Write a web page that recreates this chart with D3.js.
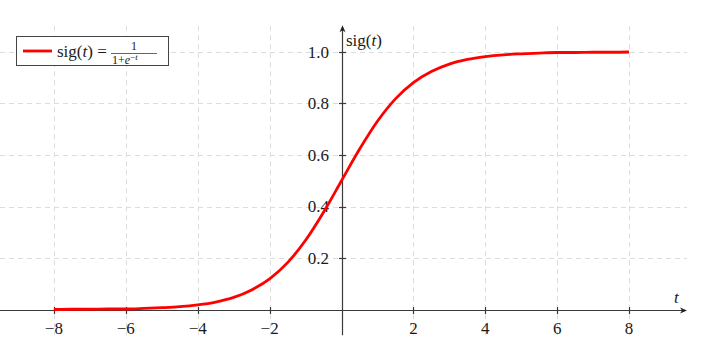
<!DOCTYPE html>
<html><head><meta charset="utf-8">
<script src="https://cdn.jsdelivr.net/npm/d3@7"></script>
<style>body{margin:0;background:#fff}svg{display:block}</style>
</head><body><svg id="c" width="715" height="352"></svg>
<script>
// data
const tValues = [-8,-7.5,-7,-6.5,-6,-5.5,-5,-4.5,-4,-3.5,-3,-2.5,-2,-1.5,-1,-0.5,0,0.5,1,1.5,2,2.5,3,3.5,4,4.5,5,5.5,6,6.5,7,7.5,8];
const sigValues = [0.000,0.001,0.001,0.002,0.002,0.004,0.007,0.011,0.018,0.029,0.047,0.076,0.119,0.182,0.269,0.378,0.500,0.622,0.731,0.818,0.881,0.924,0.953,0.971,0.982,0.989,0.993,0.996,0.998,0.998,0.999,0.999,1.000];
const xTicks = [-8,-6,-4,-2,2,4,6,8];
const yTicks = [0.2,0.4,0.6,0.8,1.0];

const FONT = "'Liberation Serif', 'Times New Roman', serif";
const svg = d3.select("#c");
const x = d3.scaleLinear().domain([-9.5, 9.5]).range([0, 683]);
const y = d3.scaleLinear().domain([0, 1]).range([309.5, 52]);
const yTop = y(1.1), yBot = y(-0.1);
const fmtX = d => (d < 0 ? "\u2212" + Math.abs(d) : String(d));

// grid
const grid = svg.append("g").attr("stroke", "#dcdcdc").attr("stroke-width", 1).attr("stroke-dasharray", "5,4");
grid.selectAll(".gx").data(xTicks).join("line")
  .attr("x1", d => Math.round(x(d)) + 0.5).attr("x2", d => Math.round(x(d)) + 0.5)
  .attr("y1", yTop).attr("y2", yBot);
grid.selectAll(".gy").data(yTicks).join("line")
  .attr("x1", 0).attr("x2", 687)
  .attr("y1", d => Math.round(y(d)) + 0.5).attr("y2", d => Math.round(y(d)) + 0.5);

// axes
const ax = svg.append("g").attr("stroke", "#3a3a3a").attr("stroke-width", 1.2);
const y0 = Math.round(y(0)) + 0.5, x0 = Math.round(x(0)) + 0.5;
ax.append("line").attr("x1", 0).attr("x2", 684).attr("y1", y0).attr("y2", y0);
ax.append("line").attr("x1", x0).attr("x2", x0).attr("y1", yBot).attr("y2", yTop + 2);
svg.append("path").attr("fill", "#222")
  .attr("d", `M${687},${y0} L${680},${y0 - 3} L${682},${y0} L${680},${y0 + 3} Z`);
svg.append("path").attr("fill", "#222")
  .attr("d", `M${x0},${yTop - 1} L${x0 - 3},${yTop + 6} L${x0},${yTop + 4} L${x0 + 3},${yTop + 6} Z`);

// ticks
ax.selectAll(".tx").data(xTicks).join("line")
  .attr("x1", d => Math.round(x(d)) + 0.5).attr("x2", d => Math.round(x(d)) + 0.5)
  .attr("y1", y0 - 3.5).attr("y2", y0 + 3.5);
ax.selectAll(".ty").data(yTicks).join("line")
  .attr("x1", x0 - 3.5).attr("x2", x0 + 3.5)
  .attr("y1", d => Math.round(y(d)) + 0.5).attr("y2", d => Math.round(y(d)) + 0.5);

function txt(sel) { return sel.append("text").style("font-family", FONT).attr("fill", "#1a1a1a"); }

svg.selectAll(".lx").data(xTicks).join("text").style("font-family", FONT).attr("fill", "#1a1a1a")
  .attr("x", d => x(d)).attr("y", 334).attr("text-anchor", "middle")
  .style("font-size", "17px").text(fmtX);
svg.selectAll(".ly").data(yTicks).join("text").style("font-family", FONT).attr("fill", "#1a1a1a")
  .attr("x", 329).attr("y", d => y(d) + 5.5).attr("text-anchor", "end")
  .style("font-size", "17px").text(d => d.toFixed(1));

// axis labels
const yl = txt(svg).attr("x", 346).attr("y", 46).style("font-size", "17px");
yl.append("tspan").text("sig(");
yl.append("tspan").style("font-style", "italic").text("t");
yl.append("tspan").text(")");
txt(svg).attr("x", 674).attr("y", 303).style("font-size", "17px").style("font-style", "italic").text("t");

// curve
const pts = tValues.map((t, i) => [t, sigValues[i]]);
svg.append("path").datum(pts)
  .attr("fill", "none").attr("stroke", "#ff0000").attr("stroke-width", 2.8)
  .attr("stroke-linejoin", "round")
  .attr("d", d3.line().x(d => x(d[0])).y(d => y(d[1])).curve(d3.curveMonotoneX));

// legend
const lg = svg.append("g");
lg.append("rect").attr("x", 16.5).attr("y", 36.5).attr("width", 152).attr("height", 29)
  .attr("fill", "#fff").attr("stroke", "#444").attr("stroke-width", 1);
lg.append("line").attr("x1", 23).attr("x2", 52).attr("y1", 51).attr("y2", 51)
  .attr("stroke", "#ff0000").attr("stroke-width", 2.8);
const lt = txt(lg).attr("x", 57).attr("y", 57).style("font-size", "17px");
lt.append("tspan").text("sig(");
lt.append("tspan").style("font-style", "italic").text("t");
lt.append("tspan").text(") =");
txt(lg).attr("x", 134).attr("y", 50).style("font-size", "12px").attr("text-anchor", "middle").text("1");
lg.append("line").attr("x1", 111).attr("x2", 157).attr("y1", 53.5).attr("y2", 53.5)
  .attr("stroke", "#222").attr("stroke-width", 0.7);
const den = txt(lg).attr("x", 112).attr("y", 63.5).style("font-size", "12px");
den.append("tspan").text("1+");
den.append("tspan").style("font-style", "italic").text("e");
den.append("tspan").style("font-size", "9px").attr("dy", -4).text("\u2212");
den.append("tspan").style("font-size", "9px").style("font-style", "italic").text("t");
</script></body></html>
